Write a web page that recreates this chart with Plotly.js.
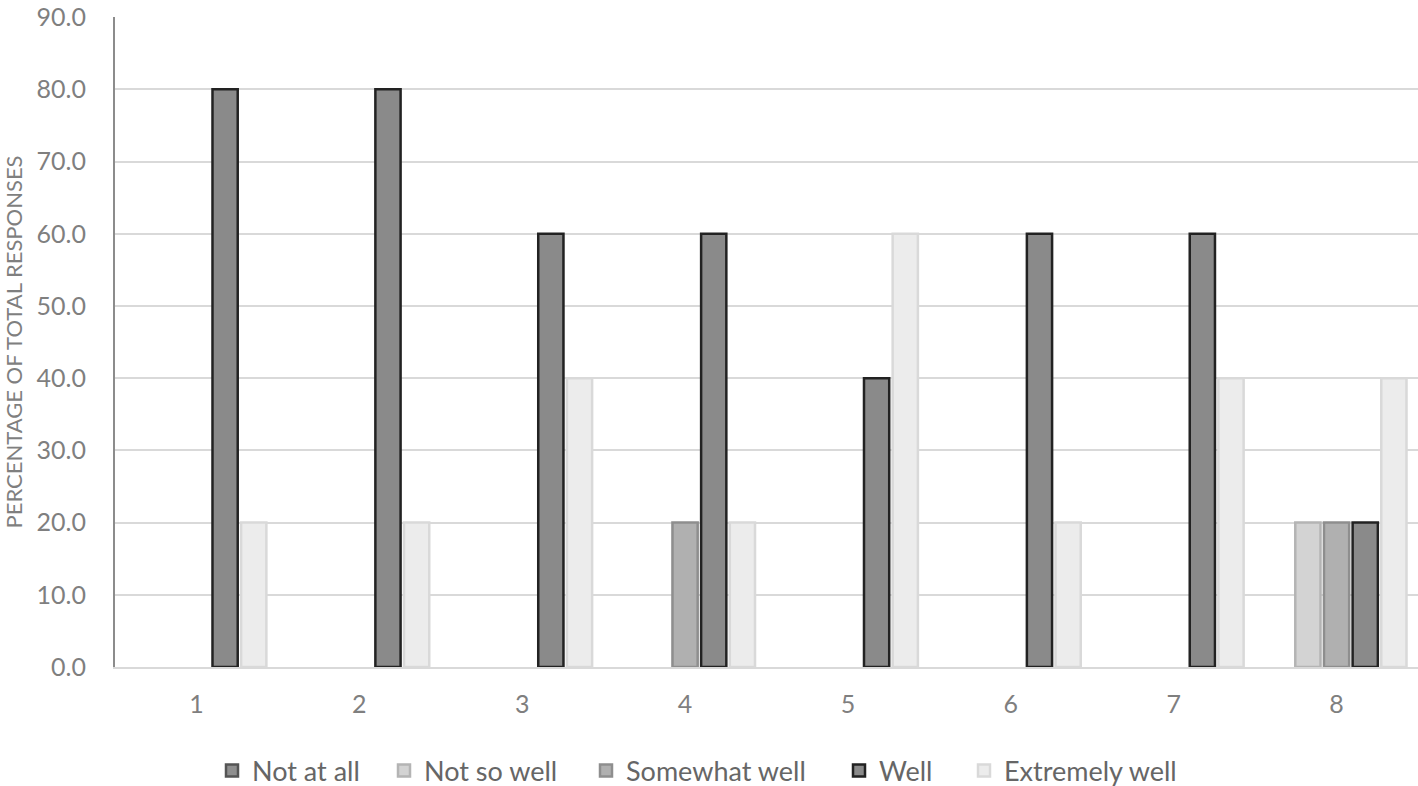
<!DOCTYPE html>
<html>
<head>
<meta charset="utf-8">
<script src="https://cdn.plot.ly/plotly-3.0.1.min.js"></script>
<style>html,body{margin:0;padding:0;background:#fff;}#chart{width:1418px;height:786px;}</style>
</head>
<body>
<div id="chart"></div>
<script>
var categories = ['1','2','3','4','5','6','7','8'];
var seriesNames = ['Not at all','Not so well','Somewhat well','Well','Extremely well'];
var notAtAll = [0,0,0,0,0,0,0,0];
var notSoWell = [0,0,0,0,0,0,0,20];
var somewhatWell = [0,0,0,20,0,0,0,20];
var well = [80,80,60,60,40,60,60,20];
var extremelyWell = [20,20,40,20,60,20,40,40];
var yTicks = [0,10,20,30,40,50,60,70,80,90];

var fills = ['#8f8f8f','#d3d3d3','#b0b0b0','#8a8a8a','#ececec'];
var borders = ['#555555','#b4b4b4','#8e8e8e','#222222','#d9d9d9'];
var values = [notAtAll, notSoWell, somewhatWell, well, extremelyWell];
var legendIds = ['legend','legend2','legend3','legend4','legend5'];
var legendLeftPx = [212, 384, 586, 839, 964];

var traces = values.map(function(v, i){
  return {
    type: 'bar',
    name: seriesNames[i],
    legend: legendIds[i],
    x: categories,
    // zero-height bars are not drawn (as in the original), so map 0 to a gap
    y: v.map(function(d){ return d === 0 ? null : d; }),
    marker: {color: fills[i], line: {color: borders[i], width: 2.5}},
    hoverinfo: 'x+y+name'
  };
});

var font = 'Lato, "Open Sans", sans-serif';
var layout = {
  width: 1418, height: 786,
  margin: {l: 115, r: 0, t: 17, b: 119},
  paper_bgcolor: '#fff', plot_bgcolor: '#fff',
  barmode: 'group', bargap: 0.12, bargroupgap: 0.12,
  font: {family: font, color: '#7f7f7f', size: 25},
  xaxis: {
    type: 'category',
    tickvals: categories, ticktext: categories,
    showline: true, linecolor: '#d9d9d9', linewidth: 2,
    showgrid: false, zeroline: false,
    ticks: 'outside', ticklen: 14, tickcolor: 'rgba(0,0,0,0)',
    tickfont: {size: 25, color: '#7f7f7f', family: font}
  },
  yaxis: {
    range: [0, 90.02],
    tickvals: yTicks,
    tickformat: '.1f',
    ticklabeloverflow: 'allow',
    showline: true, linecolor: '#8c8c8c', linewidth: 2,
    showgrid: true, gridcolor: '#d9d9d9', gridwidth: 2,
    zeroline: false,
    ticks: 'outside', ticklen: 22, tickcolor: 'rgba(0,0,0,0)',
    tickfont: {size: 25, color: '#7f7f7f', family: font},
    title: {text: 'PERCENTAGE OF TOTAL RESPONSES', font: {size: 22, color: '#7f7f7f', family: font}, standoff: 10}
  },
  showlegend: true
};
legendIds.forEach(function(id, i){
  layout[id] = {
    orientation: 'h', xref: 'container', x: legendLeftPx[i] / 1418, xanchor: 'left',
    yref: 'container', y: 0.019, yanchor: 'middle',
    font: {size: 27, color: '#666666', family: font},
    itemwidth: 30, bgcolor: 'rgba(0,0,0,0)'
  };
});

Plotly.newPlot('chart', traces, layout, {displayModeBar: false, staticPlot: true});
</script>
</body>
</html>
